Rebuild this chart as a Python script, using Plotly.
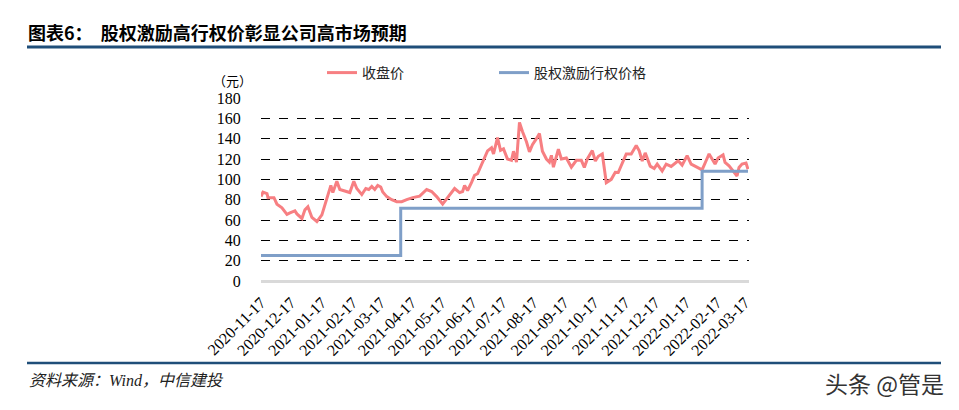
import plotly.graph_objects as go

# 收盘价
price_dates = [
    "2020-11-17", "2020-11-19", "2020-11-23", "2020-11-24", "2020-11-30", "2020-12-03",
    "2020-12-08", "2020-12-13", "2020-12-16", "2020-12-21", "2020-12-23", "2020-12-28",
    "2020-12-31", "2021-01-03", "2021-01-07", "2021-01-12", "2021-01-17", "2021-01-23",
    "2021-01-26", "2021-01-28", "2021-02-01", "2021-02-04", "2021-02-09", "2021-02-14",
    "2021-02-18", "2021-02-21", "2021-02-26", "2021-03-02", "2021-03-05", "2021-03-08",
    "2021-03-11", "2021-03-14", "2021-03-17", "2021-03-19", "2021-03-23", "2021-03-28",
    "2021-04-02", "2021-04-07", "2021-04-12", "2021-04-18", "2021-04-25", "2021-05-02",
    "2021-05-07", "2021-05-12", "2021-05-18", "2021-05-23", "2021-05-30", "2021-06-04",
    "2021-06-07", "2021-06-09", "2021-06-12", "2021-06-16", "2021-06-19", "2021-06-22",
    "2021-06-26", "2021-06-29", "2021-07-02", "2021-07-06", "2021-07-08", "2021-07-12",
    "2021-07-15", "2021-07-18", "2021-07-22", "2021-07-26", "2021-07-28", "2021-07-31",
    "2021-08-03", "2021-08-06", "2021-08-10", "2021-08-13", "2021-08-16", "2021-08-20",
    "2021-08-23", "2021-08-26", "2021-08-30", "2021-09-02", "2021-09-04", "2021-09-06",
    "2021-09-11", "2021-09-14", "2021-09-19", "2021-09-24", "2021-09-29", "2021-10-04",
    "2021-10-07", "2021-10-10", "2021-10-15", "2021-10-18", "2021-10-21", "2021-10-25",
    "2021-10-27", "2021-10-29", "2021-11-03", "2021-11-07", "2021-11-10", "2021-11-14",
    "2021-11-18", "2021-11-23", "2021-11-28", "2021-12-01", "2021-12-04", "2021-12-07",
    "2021-12-12", "2021-12-16", "2021-12-19", "2021-12-24", "2021-12-28", "2022-01-02",
    "2022-01-05", "2022-01-09", "2022-01-13", "2022-01-18", "2022-01-22", "2022-01-27",
    "2022-02-02", "2022-02-06", "2022-02-09", "2022-02-12", "2022-02-15", "2022-02-18",
    "2022-02-23", "2022-02-25", "2022-03-01", "2022-03-05", "2022-03-09", "2022-03-11",
    "2022-03-14", "2022-03-18", "2022-03-20",
]
close_price = [
    83, 87.5, 86, 82, 82, 75.5,
    72, 65.5, 67, 69, 66, 61.5,
    70, 73, 62.5, 58.5, 65, 85,
    94, 87, 98, 90, 88.5, 87,
    98, 91, 85, 91, 90, 93,
    90, 94, 92.5, 87.5, 83, 80,
    78, 78, 80, 82, 83.5, 90,
    88, 83, 75.7, 82, 91, 87,
    88, 94, 89, 97, 104, 105.5,
    115, 122, 128, 131, 125, 141,
    128.6, 130, 120, 118.7, 127.6, 117,
    156, 147, 137, 127, 134, 140,
    145, 127.6, 120, 117, 123.6, 112,
    129.6, 120, 121, 112, 118.7, 118.7,
    111.7, 120, 128.3, 118, 122.7, 125,
    113, 96.7, 100, 107, 106.7, 116.7,
    125, 125, 133.3, 128, 118, 126,
    113, 110.7, 115, 108.3, 115, 112.7,
    115, 118.3, 114, 123.3, 115, 112.7,
    109.3, 118.3, 125, 120, 115, 121,
    124, 116.7, 113.3, 108.3, 103.3, 111.7,
    115, 116, 110,
]

# 股权激励行权价格
strike_dates = ["2020-11-17", "2021-04-06", "2022-02-02", "2022-03-20"]
strike_price = [25, 71.5, 108, 108]

tick_dates = [
    "2020-11-17", "2020-12-17", "2021-01-17", "2021-02-17", "2021-03-17", "2021-04-17",
    "2021-05-17", "2021-06-17", "2021-07-17", "2021-08-17", "2021-09-17", "2021-10-17",
    "2021-11-17", "2021-12-17", "2022-01-17", "2022-02-17", "2022-03-17",
]
y_ticks = [0, 20, 40, 60, 80, 100, 120, 140, 160, 180]

# the page body has an 8px margin, so work in page pixels and shift back
OFF = 8
W, H = 959 - OFF, 410 - OFF
L, R, T, B = 261, 749, 98, 281
SERIF = "Liberation Serif, Times New Roman, serif"
CJK = "Noto Sans CJK SC, sans-serif"


def px(x):
    return (x - L) / (R - L)


def py(y):
    return (B - y) / (B - T)


fig = go.Figure()
fig.add_trace(go.Scatter(
    x=price_dates, y=close_price, mode="lines", name="收盘价",
    line=dict(color="#F77F82", width=3),
))
fig.add_trace(go.Scatter(
    x=strike_dates, y=strike_price, mode="lines", name="股权激励行权价格",
    line=dict(color="#7F9FC8", width=3, shape="hv"),
))

fig.update_layout(
    width=W, height=H,
    margin=dict(l=L - OFF, r=959 - R, t=T - OFF, b=410 - B, pad=0),
    paper_bgcolor="white", plot_bgcolor="white",
    showlegend=True,
    legend=dict(
        orientation="h", x=px(322), y=py(73), xanchor="left", yanchor="middle",
        entrywidth=127, font=dict(family=CJK, size=14, color="#222"),
        bgcolor="rgba(0,0,0,0)",
    ),
    xaxis=dict(
        type="date", range=["2020-11-17", "2022-03-21"],
        tickvals=tick_dates, tickformat="%Y-%m-%d", tickangle=-45,
        tickfont=dict(family=SERIF, size=16, color="black"),
        showgrid=False, zeroline=False,
        showline=False, ticks="outside", ticklen=5, tickcolor="rgba(0,0,0,0)",
    ),
    yaxis=dict(
        range=[0, 180], tickvals=y_ticks,
        tickfont=dict(family=SERIF, size=16, color="black"),
        showgrid=True, gridcolor="black", griddash="dash", gridwidth=1,
        zeroline=True, zerolinecolor="#d9d9d9", zerolinewidth=2.5,
        ticks="outside", ticklen=16, tickcolor="rgba(0,0,0,0)",
        showline=False, fixedrange=True,
    ),
)

# title, rules, source text and watermark
fig.add_annotation(
    x=px(26), y=py(32), xref="paper", yref="paper", xanchor="left", yanchor="middle",
    text="<b>图表6：  股权激励高行权价彰显公司高市场预期</b>", showarrow=False,
    font=dict(family=CJK, size=18, color="black"),
)
fig.add_shape(type="line", xref="paper", yref="paper",
              x0=px(27), x1=px(941), y0=py(47), y1=py(47),
              line=dict(color="#1F4E79", width=3))
fig.add_shape(type="line", xref="paper", yref="paper",
              x0=px(27), x1=px(941), y0=py(363), y1=py(363),
              line=dict(color="#1F4E79", width=2.5))
fig.add_annotation(
    x=px(232), y=py(81), xref="paper", yref="paper", xanchor="center", yanchor="middle",
    text="（元）", showarrow=False, font=dict(family=CJK, size=13, color="black"),
)
fig.add_annotation(
    x=px(27), y=py(380), xref="paper", yref="paper", xanchor="left", yanchor="middle",
    text="<i>资料来源：Wind，中信建投</i>", showarrow=False,
    font=dict(family=SERIF + ", " + CJK, size=16, color="#222"),
)
fig.add_annotation(
    x=px(946), y=py(383), xref="paper", yref="paper", xanchor="right", yanchor="middle",
    text="头条 @管是", showarrow=False,
    font=dict(family=CJK, size=23, color="#333"),
)

fig.write_html("out.html")
